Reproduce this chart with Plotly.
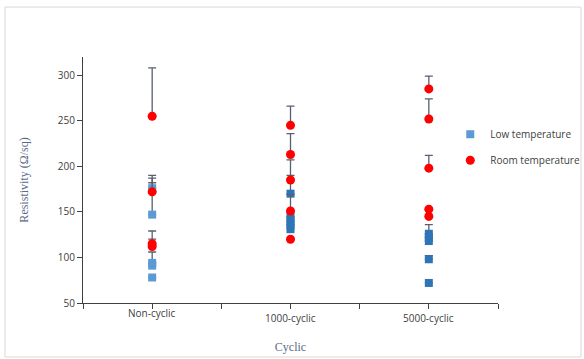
import plotly.graph_objects as go

categories = ["Non-cyclic", "1000-cyclic", "5000-cyclic"]

# Low temperature series: category index, value, upper error
low_cat = [0, 0, 0, 0, 0, 1, 1, 1, 1, 1, 2, 2, 2, 2, 2]
low_val = [176, 147, 94, 91, 78, 170, 145, 140, 136, 131, 126, 122, 118, 98, 72]
low_err = [6, 43, 12, 0, 0, 20, 0, 0, 0, 0, 10, 0, 0, 4, 0]

# Room temperature series
room_cat = [0, 0, 0, 0, 1, 1, 1, 1, 1, 2, 2, 2, 2, 2]
room_val = [255, 172, 115, 112, 245, 213, 185, 151, 120, 285, 252, 198, 153, 145]
room_err = [53, 15, 14, 8, 21, 23, 22, 18, 0, 14, 22, 14, 0, 0]

y_ticks = [50, 100, 150, 200, 250, 300]

low_colors = ["#5B9BD5" if c == 0 else "#2E75B6" for c in low_cat]
err_color = "#595F6E"

fig = go.Figure()
fig.add_trace(go.Scatter(
    x=low_cat, y=low_val, mode="markers", name="Low temperature",
    legendgroup="low",
    marker=dict(symbol="square", size=8, color=low_colors),
    error_y=dict(type="data", symmetric=False, array=low_err,
                 arrayminus=[0] * len(low_err), color=err_color,
                 thickness=1.3, width=4),
))
fig.add_trace(go.Scatter(
    x=room_cat, y=room_val, mode="markers", name="Room temperature",
    legendgroup="room",
    marker=dict(symbol="circle", size=9, color="#FF0000"),
    error_y=dict(type="data", symmetric=False, array=room_err,
                 arrayminus=[0] * len(room_err), color=err_color,
                 thickness=1.3, width=4),
))

tick_positions = [i * 0.5 - 0.5 for i in range(7)]

annotations = []
label_offsets = [-10, -15, -15]
for i, c in enumerate(categories):
    annotations.append(dict(
        x=i, y=0, xref="x", yref="paper", text=c, showarrow=False,
        yshift=label_offsets[i], yanchor="middle",
        font=dict(family="Open Sans, Liberation Sans, sans-serif", size=10, color="#404040"),
    ))

fig.update_layout(
    width=584, height=359,
    margin=dict(l=83, r=86, t=57, b=56, autoexpand=False),
    paper_bgcolor="white", plot_bgcolor="white",
    showlegend=True,
    legend=dict(x=0.885, y=0.745, xanchor="left", yanchor="top",
                traceorder="grouped", tracegroupgap=7,
                font=dict(family="Open Sans, Liberation Sans, sans-serif", size=10, color="#404040"),
                bgcolor="rgba(0,0,0,0)", itemwidth=30),
    xaxis=dict(range=[-0.5, 2.5], tickmode="array", tickvals=tick_positions,
               ticktext=[""] * len(tick_positions), ticks="outside", ticklen=5,
               tickcolor="#404040", showline=True, linecolor="#404040", linewidth=1,
               showgrid=False, zeroline=False,
               title=dict(text="Cyclic", standoff=32,
                          font=dict(family="Liberation Serif, serif", size=12, color="#5A6A8A"))),
    yaxis=dict(range=[50, 320], tickmode="array", tickvals=y_ticks,
               ticks="outside", ticklen=5, tickcolor="#404040",
               showline=True, linecolor="#404040", linewidth=1,
               showgrid=False, zeroline=False,
               tickfont=dict(family="Open Sans, Liberation Sans, sans-serif", size=10, color="#404040"),
               title=dict(text="Resistivity (Ω/sq)", standoff=26,
                          font=dict(family="Liberation Serif, serif", size=12, color="#5A6A8A"))),
    annotations=annotations,
    shapes=[dict(type="rect", xref="paper", yref="paper",
                 x0=-0.188, x1=1.2, y0=-0.2195, y1=1.203,
                 line=dict(color="#D9D9D9", width=1), fillcolor="rgba(0,0,0,0)", layer="below")],
)

fig.write_html("out.html")
